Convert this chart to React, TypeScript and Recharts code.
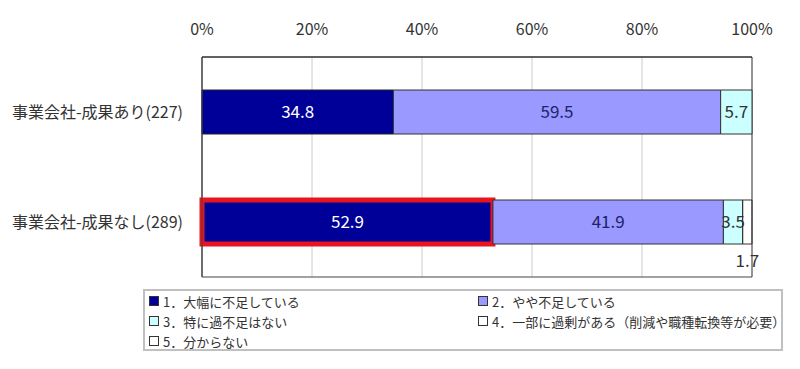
import { BarChart, Bar, XAxis, YAxis, CartesianGrid, LabelList, Cell, ReferenceArea } from 'recharts';

const categories = ['事業会社-成果あり(227)', '事業会社-成果なし(289)'];
const seriesNames = [
  '1．大幅に不足している',
  '2．やや不足している',
  '3．特に過不足はない',
  '4．一部に過剰がある（削減や職種転換等が必要）',
  '5．分からない',
];
const severe = [34.8, 52.9];
const slight = [59.5, 41.9];
const none = [5.7, 3.5];
const surplus = [0, 0];
const unknown = [0, 1.7];
const xTicks = [0, 20, 40, 60, 80, 100];

const colors = ['#000099', '#9999ff', '#ccffff', '#ffffff', '#ffffff'];
const keys = ['s1', 's2', 's3', 's4', 's5'];
const labelColors = ['#ffffff', '#222266', '#333333', '#333333', '#333333'];

const data = categories.map((name, i) => ({
  name,
  s1: severe[i],
  s2: slight[i],
  s3: none[i],
  s4: surplus[i],
  s5: unknown[i],
}));

const font = '"Noto Sans CJK JP", "Noto Sans", sans-serif';
const fmt = (v: any) => (Number(v) === 0 ? '' : Number(v).toFixed(1));

function LegendBox() {
  // two-column legend, laid out like the original
  return (
    <div
      style={{
        position: 'absolute',
        left: 143,
        top: 289,
        width: 640,
        height: 62,
        boxSizing: 'border-box',
        border: '2px solid #c0c0c0',
        background: '#fff',
        fontFamily: font,
        fontSize: 13,
        color: '#333',
        display: 'grid',
        gridTemplateColumns: '329px 1fr',
        gridAutoRows: '20px',
        padding: '0 0 0 4px',
      }}
    >
      {seriesNames.map((n, i) => (
        <div key={n} style={{ display: 'flex', alignItems: 'center', whiteSpace: 'nowrap' }}>
          <span
            style={{
              display: 'inline-block',
              width: 8,
              height: 8,
              border: '1px solid #333',
              background: colors[i],
              marginRight: 4,
            }}
          />
          {n}
        </div>
      ))}
    </div>
  );
}

export default function App() {
  return (
    <div style={{ position: 'absolute', left: 0, top: 0, width: 800, height: 369, background: '#fff' }}>
      <BarChart
        width={800}
        height={369}
        data={data}
        layout="vertical"
        margin={{ top: 27, right: 48, bottom: 92, left: 2 }}
        barSize={44}
      >
        <CartesianGrid horizontal={false} stroke="#cccccc" />
        <XAxis
          type="number"
          orientation="top"
          domain={[0, 100]}
          ticks={xTicks}
          tickFormatter={(v) => `${v}%`}
          height={30}
          tickSize={0}
          tickMargin={22}
          axisLine={{ stroke: '#222' }}
          tick={{ fill: '#333', fontSize: 16, fontFamily: font }}
        />
        <YAxis
          type="category"
          dataKey="name"
          width={200}
          tickSize={0}
          tickMargin={19}
          axisLine={{ stroke: '#444' }}
          tick={{ fill: '#333', fontSize: 16, fontFamily: font }}
        />
        {keys.map((k, idx) => (
          <Bar
            key={k}
            dataKey={k}
            name={seriesNames[idx]}
            stackId="a"
            fill={idx >= 3 ? 'none' : colors[idx]}
            stroke="#333"
            strokeWidth={1}
            isAnimationActive={false}
          >
            {idx === 0 &&
              data.map((d, i) => (
                <Cell key={d.name} stroke={i === 1 ? '#e8141e' : '#222'} strokeWidth={i === 1 ? 5 : 1} />
              ))}
            <LabelList
              dataKey={k}
              position={idx === 4 ? 'bottom' : 'center'}
              offset={idx === 4 ? 11 : 5}
              formatter={fmt}
              fill={labelColors[idx]}
              style={{ fontSize: 17, fontFamily: font }}
            />
          </Bar>
        ))}
        <ReferenceArea x1={0} x2={100} fill="none" stroke="#444" strokeOpacity={1} ifOverflow="visible" />
      </BarChart>
      <LegendBox />
    </div>
  );
}
